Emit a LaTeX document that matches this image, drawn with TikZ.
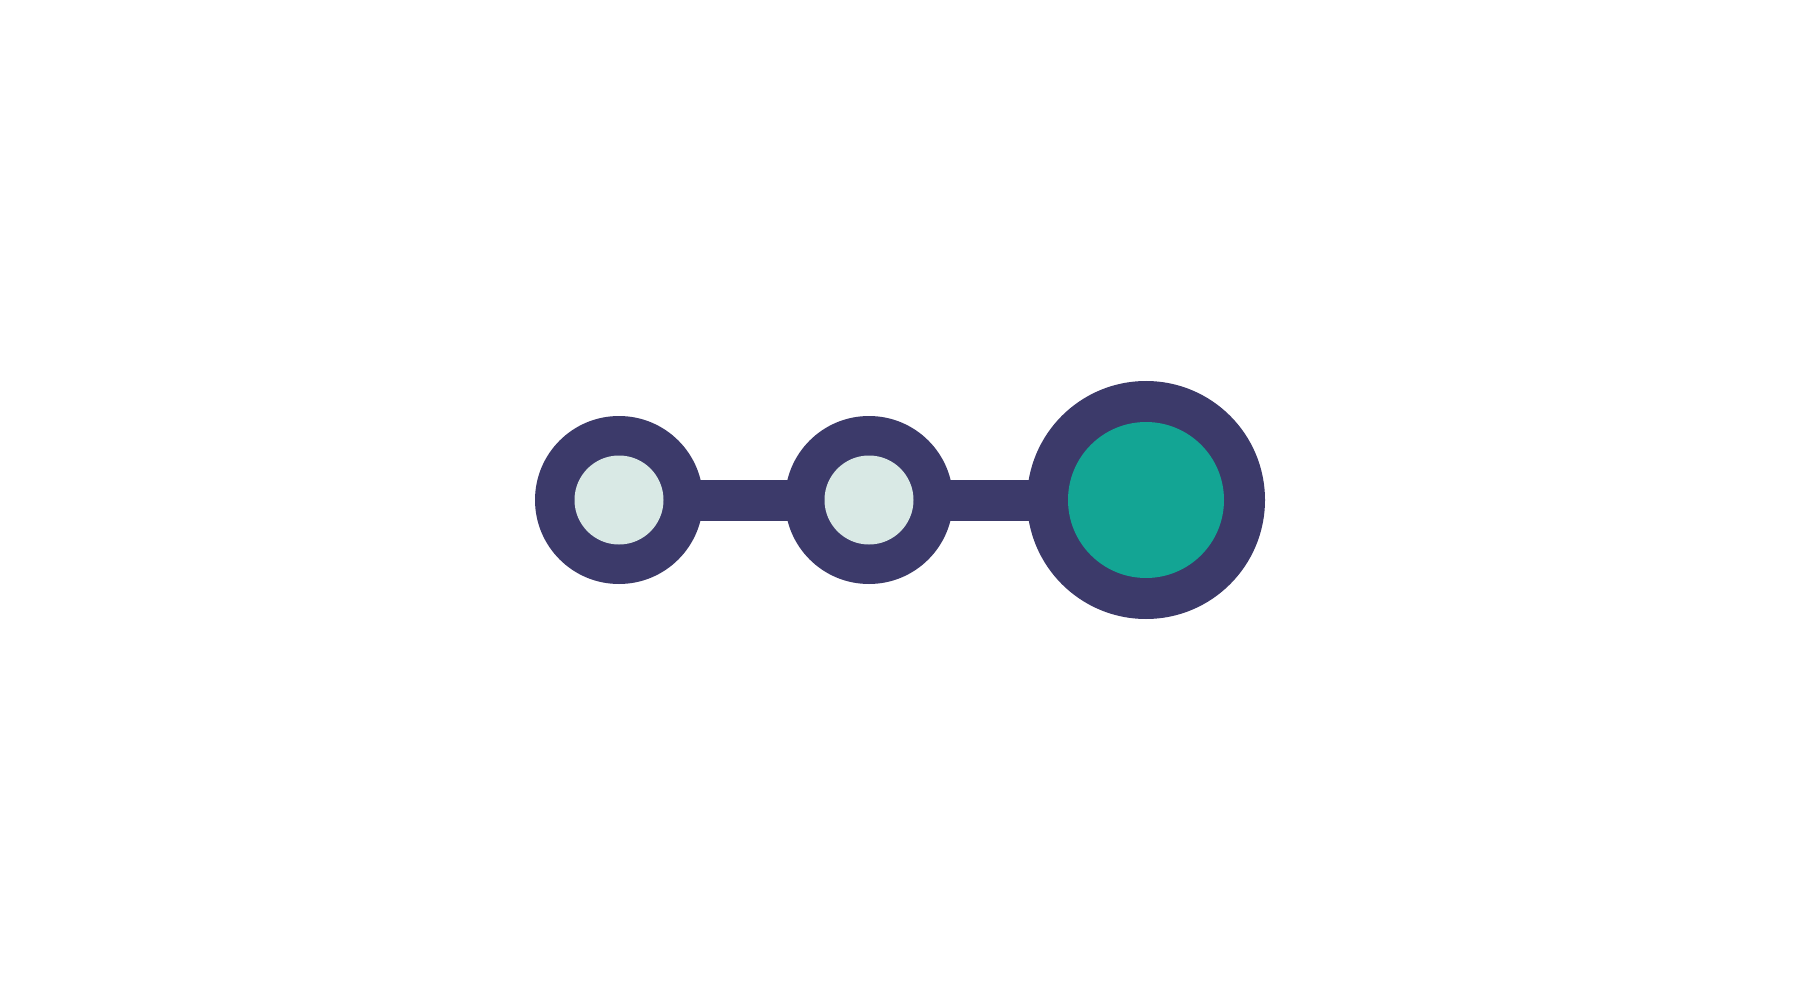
\documentclass[tikz,border=0pt]{standalone}
\usepackage{tikz}
\definecolor{NightBlue}{HTML}{3C3A6A}
\definecolor{PaleMint}{HTML}{D9E9E5}
\definecolor{Teal}{HTML}{13A594}
\usetikzlibrary{calc}

\begin{document}
\begin{tikzpicture}[x=1pt,y=-1pt,inner sep=0pt,outer sep=0pt]
        \useasboundingbox[fill=white] (0,0) rectangle (1800,1000);
        \node[circle,fill=NightBlue,minimum size=168] (A) at (619,500) {};
        \node[circle,fill=NightBlue,minimum size=168] (B) at (869,500) {};
        \node[circle,fill=NightBlue,minimum size=238] (C) at (1146,500) {};
        \draw[NightBlue,line width=41] (A.center) -- (B.center);
        \draw[NightBlue,line width=41] (B.center) -- (C.center);
        \node[circle,fill=PaleMint,minimum size=89] (a) at (A) {};
        \node[circle,fill=PaleMint,minimum size=89] (b) at (B) {};
        \node[circle,fill=Teal,minimum size=156] (c) at (C) {};
    \end{tikzpicture}
\end{document}
